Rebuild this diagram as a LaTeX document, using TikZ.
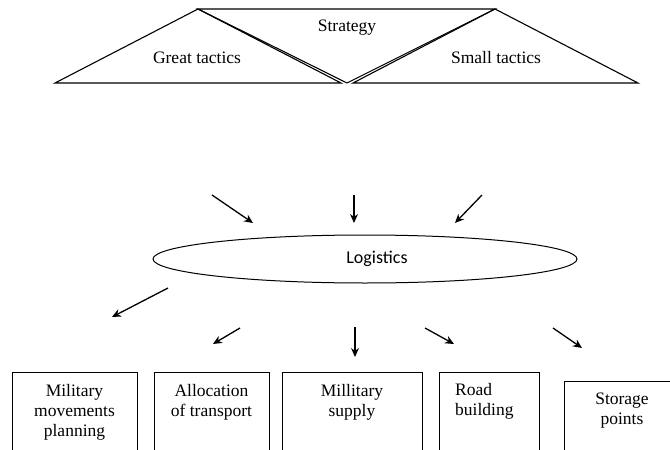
\documentclass[tikz,border=0pt]{standalone}
\usepackage{fontspec}
\setmainfont{Liberation Serif}
\newfontfamily\logfont{Carlito}
\usetikzlibrary{arrows.meta,shapes.geometric}

\begin{document}
\begin{tikzpicture}[
x=1pt,
y=-1pt,
every node/.style={font=\fontsize{17.5}{20}\selectfont},
tri/.style={draw,line width=1.1pt,line join=miter},
lgellipse/.style={ellipse,draw,line width=1pt,minimum width=424pt,minimum height=48pt,inner sep=0pt},
lgtext/.style={font=\logfont\fontsize{18}{20}\selectfont},
taskbox/.style={rectangle,draw,line width=1pt,anchor=north,inner sep=0pt,minimum height=110pt},
tasktext/.style={anchor=north,align=center,inner sep=0pt},
flow/.style={-{Stealth[length=9pt,width=8pt]},line width=1.3pt}
]
\useasboundingbox (0,0) rectangle (670,450);
\clip (0,0) rectangle (670,450);

% top triangles
\draw[tri] (55,83) -- (198,9) -- (341,83) -- cycle;
\draw[tri] (198,9) -- (495,9) -- (347,83) -- cycle;
\draw[tri] (353,83) -- (495,9) -- (638,83) -- cycle;
\node (strategy) at (347,28) {Strategy};
\node (great) at (197,58) {Great tactics};
\node (small) at (496,58) {Small tactics};

% logistics
\node[lgellipse] (logistics) at (365,259) {};
\node[lgtext] (logtext) at (377,259) {Logistics};

\coordinate (in1s) at (212,195); \coordinate (in1e) at (253,223);
\coordinate (in2s) at (354,195); \coordinate (in2e) at (354,223);
\coordinate (in3s) at (482,195); \coordinate (in3e) at (455,223);
\draw[flow] (in1s) -- (in1e);
\draw[flow] (in2s) -- (in2e);
\draw[flow] (in3s) -- (in3e);

\coordinate (out1s) at (168,288); \coordinate (out1e) at (112,317);
\coordinate (out2s) at (240,328); \coordinate (out2e) at (213,344);
\coordinate (out3s) at (355,327); \coordinate (out3e) at (355,357);
\coordinate (out4s) at (425,328); \coordinate (out4e) at (454,344);
\coordinate (out5s) at (553,328); \coordinate (out5e) at (582,348);
\draw[flow] (out1s) -- (out1e);
\draw[flow] (out2s) -- (out2e);
\draw[flow] (out3s) -- (out3e);
\draw[flow] (out4s) -- (out4e);
\draw[flow] (out5s) -- (out5e);

% task boxes
\node[taskbox,minimum width=125pt] (movements) at (74.5,372) {};
\node[tasktext] (movementstext) at (74.5,384) {Military\\movements\\planning};
\node[taskbox,minimum width=115pt] (transport) at (211.5,372) {};
\node[tasktext] (transporttext) at (211.5,384) {Allocation\\of transport};
\node[taskbox,minimum width=140pt] (supply) at (352,372) {};
\node[tasktext] (supplytext) at (352,384) {Millitary\\supply};
\node[taskbox,minimum width=100pt] (road) at (489,372) {};
\node[tasktext,anchor=north west,align=left] (roadtext) at (455,383) {Road\\building};
\node[taskbox,minimum width=112pt] (storage) at (620,381) {};
\node[tasktext] (storagetext) at (622,393) {Storage\\points};
\end{tikzpicture}
\end{document}
